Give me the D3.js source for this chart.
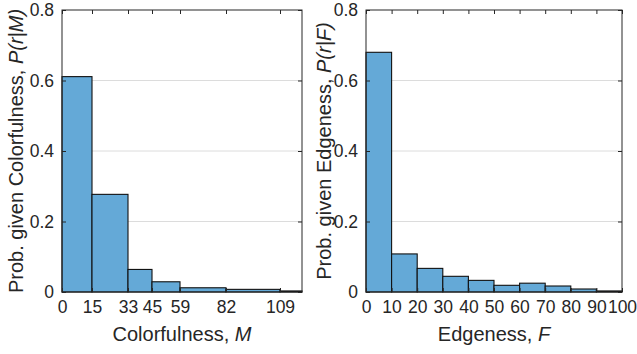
<!DOCTYPE html>
<html>
<head>
<meta charset="utf-8">
<script src="https://cdn.jsdelivr.net/npm/d3@7"></script>
<style>
  body { margin: 0; background: #fff; }
  svg text { font-family: "Liberation Sans", Arial, Helvetica, sans-serif; fill: #262626; }
</style>
</head>
<body>
<div id="chart"></div>
<script>
// left panel: colorfulness histogram (custom bin edges)
const colorEdges = [0, 15, 33, 45, 59, 82, 109, 120];
const colorProb = [0.611, 0.277, 0.064, 0.029, 0.012, 0.0075, 0.003];
const colorTicks = [0, 15, 33, 45, 59, 82, 109];

// right panel: edgeness histogram
const edgeEdges = [0, 10, 20, 30, 40, 50, 60, 70, 80, 90, 100];
const edgeProb = [0.680, 0.108, 0.067, 0.0445, 0.033, 0.019, 0.025, 0.017, 0.0085, 0.003];
const edgeTicks = [0, 10, 20, 30, 40, 50, 60, 70, 80, 90, 100];

const yTicks = [0, 0.2, 0.4, 0.6, 0.8];

const width = 637, height = 354;
const svg = d3.select("#chart").append("svg")
    .attr("width", width)
    .attr("height", height);

const axisColor = "#262626";
const barFill = "#64a9d7";

function panel(opts) {
    const { left, right, top, bottom, edges, probs, xTicks, xMax, xLabel, xVar, yLabel, yVar, yLabelX } = opts;

    const x = d3.scaleLinear().domain([0, xMax]).range([left, right]);
    const y = d3.scaleLinear().domain([0, 0.8]).range([bottom, top]);

    const g = svg.append("g");

    // horizontal grid
    g.selectAll("line.grid")
        .data(yTicks.slice(1, -1))
        .enter()
        .append("line")
        .attr("class", "grid")
        .attr("x1", left).attr("x2", right)
        .attr("y1", d => y(d)).attr("y2", d => y(d))
        .attr("stroke", "#dcdcdc")
        .attr("stroke-width", 1);

    const bins = probs.map((p, i) => ({ x0: edges[i], x1: edges[i + 1], p: p }));

    g.selectAll("rect.bar")
        .data(bins)
        .enter()
        .append("rect")
        .attr("class", "bar")
        .attr("x", d => x(d.x0))
        .attr("y", d => y(d.p))
        .attr("width", d => x(d.x1) - x(d.x0))
        .attr("height", d => y(0) - y(d.p))
        .attr("fill", barFill)
        .attr("stroke", "#111")
        .attr("stroke-width", 1.1);

    // axes (ticks pointing inward, mirrored on top/right)
    const xAxis = d3.axisBottom(x).tickValues(xTicks).tickSizeInner(-4).tickSizeOuter(0).tickPadding(9).tickFormat(d3.format("d"));
    const xAxisTop = d3.axisTop(x).tickValues(xTicks).tickSizeInner(-4).tickSizeOuter(0).tickFormat("");
    const yAxis = d3.axisLeft(y).tickValues(yTicks).tickSizeInner(-4).tickSizeOuter(0).tickPadding(8).tickFormat(d => d === 0 ? "0" : d3.format(".1f")(d));
    const yAxisRight = d3.axisRight(y).tickValues(yTicks).tickSizeInner(-4).tickSizeOuter(0).tickFormat("");

    const axes = [
        [xAxis, "translate(0," + bottom + ")"],
        [xAxisTop, "translate(0," + top + ")"],
        [yAxis, "translate(" + left + ",0)"],
        [yAxisRight, "translate(" + right + ",0)"]
    ];
    axes.forEach(([ax, tr]) => {
        const a = g.append("g").attr("transform", tr).call(ax);
        a.select(".domain").remove();
        a.selectAll("line").attr("stroke", axisColor);
        a.selectAll("text").attr("font-size", 17.5).attr("fill", axisColor)
            .style("font-family", "'Liberation Sans', Arial, sans-serif");
    });

    g.append("rect")
        .attr("x", left).attr("y", top)
        .attr("width", right - left).attr("height", bottom - top)
        .attr("fill", "none")
        .attr("stroke", axisColor)
        .attr("stroke-width", 1);

    const xl = g.append("text")
        .attr("x", (left + right) / 2)
        .attr("y", bottom + 49)
        .attr("text-anchor", "middle")
        .attr("font-size", 20);
    xl.append("tspan").text(xLabel + ",  ");
    xl.append("tspan").attr("font-style", "italic").text(xVar);

    const yl = g.append("text")
        .attr("transform", "translate(" + yLabelX + "," + (top + bottom) / 2 + ") rotate(-90)")
        .attr("text-anchor", "middle")
        .attr("font-size", 20);
    yl.append("tspan").text(yLabel + ",  ");
    yl.append("tspan").attr("font-style", "italic").text(yVar);
}

panel({
    left: 62, right: 302, top: 10, bottom: 292,
    edges: colorEdges, probs: colorProb, xTicks: colorTicks, xMax: 120,
    xLabel: "Colorfulness", xVar: "M",
    yLabel: "Prob. given Colorfulness", yVar: "P(r|M)", yLabelX: 23
});

panel({
    left: 366, right: 622, top: 10, bottom: 292,
    edges: edgeEdges, probs: edgeProb, xTicks: edgeTicks, xMax: 100,
    xLabel: "Edgeness", xVar: "F",
    yLabel: "Prob. given Edgeness", yVar: "P(r|F)", yLabelX: 331
});
</script>
</body>
</html>
